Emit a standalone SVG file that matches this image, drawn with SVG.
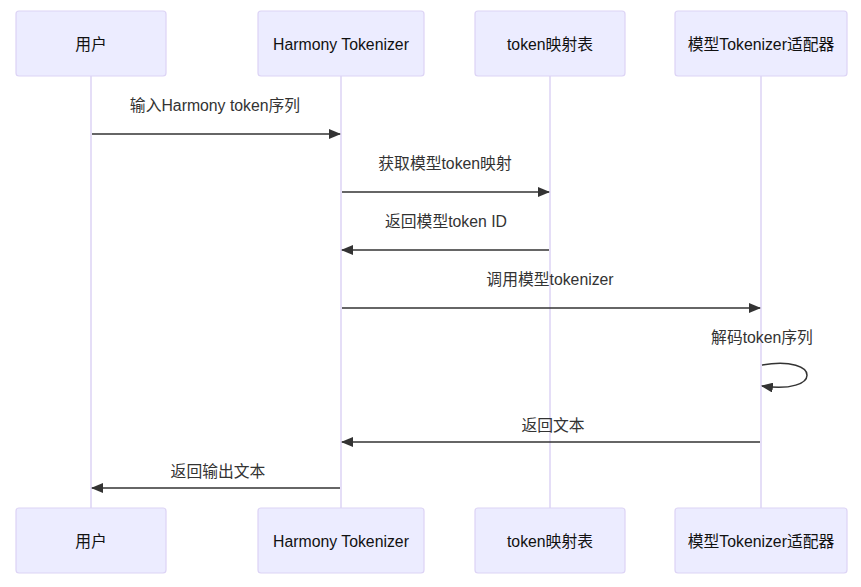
<svg xmlns="http://www.w3.org/2000/svg" width="861" height="587" viewBox="0 0 861 587">
<style>
.actor{fill:#ECECFF;stroke:#DCD3F5;stroke-width:1.2}
.atext{font-family:"Liberation Sans","Noto Sans CJK SC",sans-serif;font-size:15.8px;fill:#111;text-anchor:middle;dominant-baseline:central}
.life{stroke:#DCD3F5;stroke-width:1.5}
.msg{stroke:#333;stroke-width:1.5;fill:none}
.mtext{font-family:"Liberation Sans","Noto Sans CJK SC",sans-serif;font-size:15.8px;fill:#333;text-anchor:middle;dominant-baseline:central}
</style>
<defs>
<marker id="arr" viewBox="0 0 12 10" refX="11" refY="5" markerWidth="12" markerHeight="10" markerUnits="userSpaceOnUse" orient="auto">
<path d="M0,0 L12,5 L0,10 z" fill="#333"/>
</marker>
</defs>
<g id="lifelines">
<line class="life" x1="91" y1="76" x2="91" y2="508"/>
<line class="life" x1="341" y1="76" x2="341" y2="508"/>
<line class="life" x1="550" y1="76" x2="550" y2="508"/>
<line class="life" x1="761" y1="76" x2="761" y2="508"/>
</g>
<g id="actor-user-top"><rect class="actor" x="16" y="11" width="150" height="65" rx="3"/><text class="atext" x="91" y="44">用户</text></g>
<g id="actor-ht-top"><rect class="actor" x="258" y="11" width="166" height="65" rx="3"/><text class="atext" x="341" y="44">Harmony Tokenizer</text></g>
<g id="actor-map-top"><rect class="actor" x="475" y="11" width="150" height="65" rx="3"/><text class="atext" x="550" y="44">token映射表</text></g>
<g id="actor-adapter-top"><rect class="actor" x="675" y="11" width="172" height="65" rx="3"/><text class="atext" x="761" y="44">模型Tokenizer适配器</text></g>
<g id="actor-user-bottom"><rect class="actor" x="16" y="508" width="150" height="65" rx="3"/><text class="atext" x="91" y="541">用户</text></g>
<g id="actor-ht-bottom"><rect class="actor" x="258" y="508" width="166" height="65" rx="3"/><text class="atext" x="341" y="541">Harmony Tokenizer</text></g>
<g id="actor-map-bottom"><rect class="actor" x="475" y="508" width="150" height="65" rx="3"/><text class="atext" x="550" y="541">token映射表</text></g>
<g id="actor-adapter-bottom"><rect class="actor" x="675" y="508" width="172" height="65" rx="3"/><text class="atext" x="761" y="541">模型Tokenizer适配器</text></g>
<g id="connectors">
<line class="msg" x1="92" y1="134" x2="340" y2="134" marker-end="url(#arr)"/>
<text class="mtext" x="215" y="105">输入Harmony token序列</text>
<line class="msg" x1="342" y1="192" x2="549" y2="192" marker-end="url(#arr)"/>
<text class="mtext" x="445" y="163">获取模型token映射</text>
<line class="msg" x1="549" y1="250" x2="342" y2="250" marker-end="url(#arr)"/>
<text class="mtext" x="446" y="221">返回模型token ID</text>
<line class="msg" x1="342" y1="308" x2="760" y2="308" marker-end="url(#arr)"/>
<text class="mtext" x="550" y="279">调用模型tokenizer</text>
<path class="msg" d="M762,365 C822,355 822,395 762,386" marker-end="url(#arr)"/>
<text class="mtext" x="762" y="337">解码token序列</text>
<line class="msg" x1="760" y1="442" x2="342" y2="442" marker-end="url(#arr)"/>
<text class="mtext" x="553" y="425">返回文本</text>
<line class="msg" x1="340" y1="488" x2="92" y2="488" marker-end="url(#arr)"/>
<text class="mtext" x="218" y="471">返回输出文本</text>
</g>
</svg>
